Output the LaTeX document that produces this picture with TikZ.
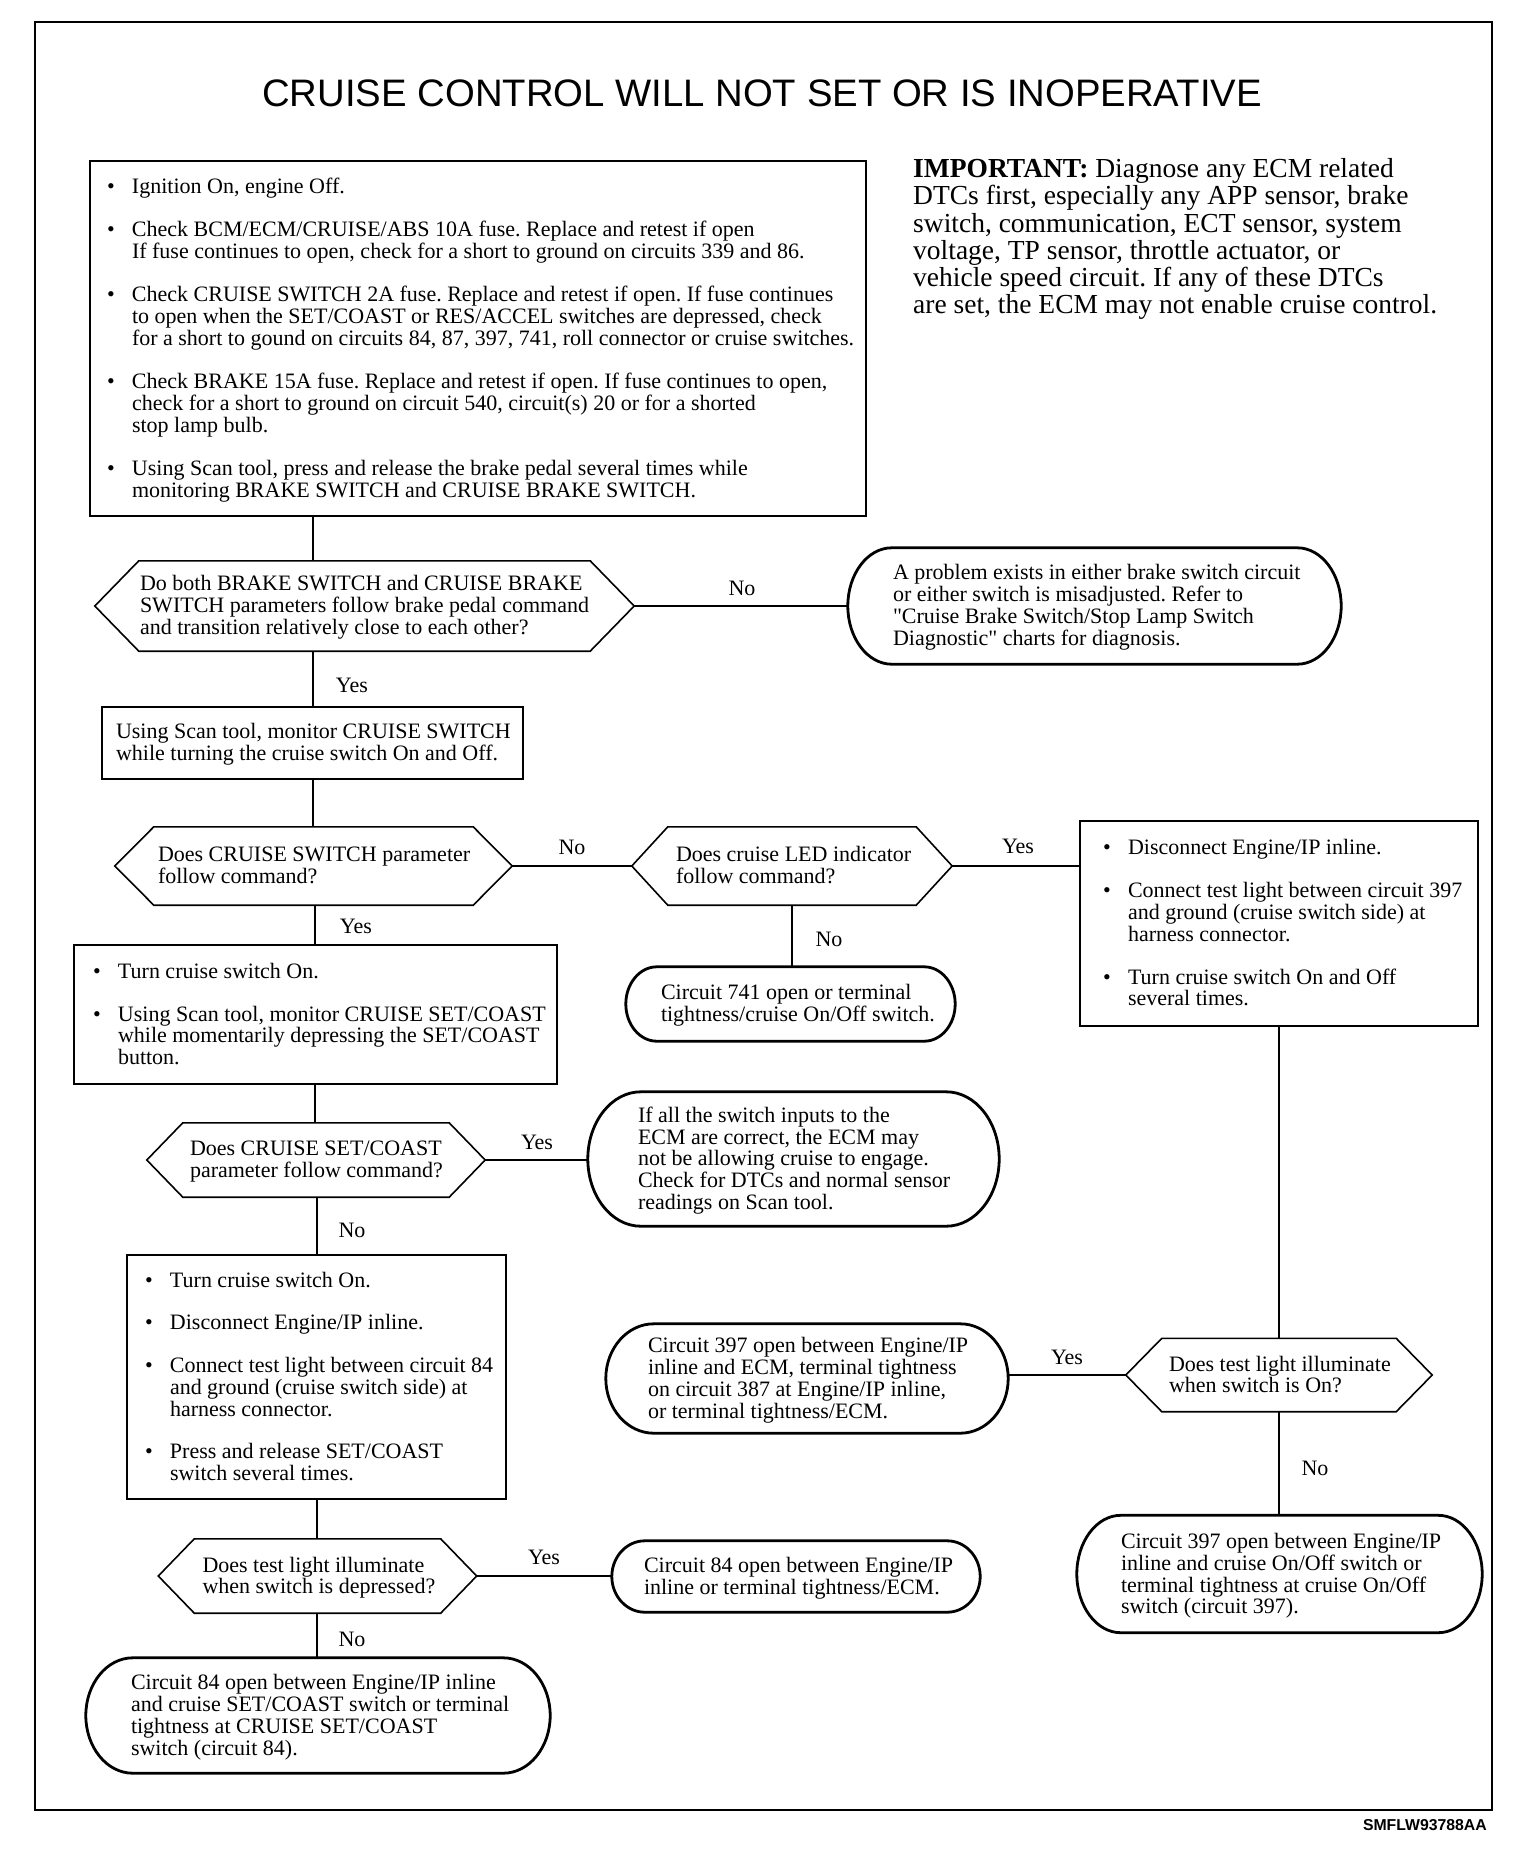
\documentclass[tikz,border=0pt]{standalone}
\usepackage{fontspec}
\defaultfontfeatures[\rmfamily,\sffamily]{}
\setmainfont{Liberation Serif}
\setsansfont{Liberation Sans}
\newfontfamily\rawserif{Liberation Serif}
\frenchspacing
\newcommand\bu{\makebox[25pt][l]{\textbullet}}
\newcommand\dn[1]{\raisebox{0pt}[\dimexpr\height+2.5pt\relax][\dimexpr\depth-2.5pt\relax]{#1}}
\newcommand\tx[2]{\dn{\makebox[#1pt][l]{\begin{tabular}{@{}l@{}}#2\end{tabular}}}}
\newcommand\bl[2]{\dn{\makebox[#1pt][l]{\begin{tabular}{@{}l@{}l@{}}#2\end{tabular}}}}
\newcommand\qq{{\rawserif\symbol{34}}}
\newcommand\hexb[2]{\draw[hexline] (#1.west) -- ([xshift=#2pt]#1.north west) -- ([xshift=-#2pt]#1.north east) -- (#1.east) -- ([xshift=-#2pt]#1.south east) -- ([xshift=#2pt]#1.south west) -- cycle;}
\newcommand\termb[3]{\draw[termline] ([xshift=#2pt]#1.north west) -- ([xshift=-#2pt]#1.north east)
 .. controls ([xshift=-0.4477*#2pt]#1.north east) and ([yshift=0.5523*#3pt]#1.east) .. (#1.east)
 .. controls ([yshift=-0.5523*#3pt]#1.east) and ([xshift=-0.4477*#2pt]#1.south east) .. ([xshift=-#2pt]#1.south east)
 -- ([xshift=#2pt]#1.south west)
 .. controls ([xshift=0.4477*#2pt]#1.south west) and ([yshift=-0.5523*#3pt]#1.west) .. (#1.west)
 .. controls ([yshift=0.5523*#3pt]#1.west) and ([xshift=0.4477*#2pt]#1.north west) .. ([xshift=#2pt]#1.north west) -- cycle;}
\begin{document}
\begin{tikzpicture}[x=1pt,y=1pt,
  txt/.style={inner sep=0pt, font=\fontsize{22}{21.7}\selectfont},
  boxn/.style={txt, draw, line width=2.6pt},
  shp/.style={txt},
  hexline/.style={line width=1.6pt, line join=miter},
  termline/.style={line width=2.8pt},
  conn/.style={line width=1.6pt},
  lab/.style={inner sep=0pt, font=\fontsize{22}{22}\selectfont},
  frame/.style={line width=2pt}]
\useasboundingbox (0,0) rectangle (1536,-1860);
\draw[frame] (35,-22) rectangle (1492,-1810);

\node[anchor=base, font=\sffamily\fontsize{38.3}{40}\selectfont] (title) at (762,-106) {CRUISE CONTROL WILL NOT SET OR IS INOPERATIVE};

\node[anchor=base west, inner sep=0pt, font=\fontsize{27.5}{27}\selectfont] (imp) at (913,-177.5)
 {\begin{tabular}[t]{@{}l@{}}\textbf{IMPORTANT:} Diagnose any ECM related\\
 DTCs first, especially any APP sensor, brake\\
 switch, communication, ECT sensor, system\\
 voltage, TP sensor, throttle actuator, or\\
 vehicle speed circuit. If any of these DTCs\\
 are set, the ECM may not enable cruise control.\end{tabular}};

% main column
\node[boxn, minimum width=776pt, minimum height=355pt] (b1) at (478,-338.5)
 {\bl{742}{\bu & Ignition On, engine Off.\\[21pt]
 \bu & Check BCM/ECM/CRUISE/ABS 10A fuse. Replace and retest if open\\
 & If fuse continues to open, check for a short to ground on circuits 339 and 86.\\[21pt]
 \bu & Check CRUISE SWITCH 2A fuse. Replace and retest if open. If fuse continues\\
 & to open when the SET/COAST or RES/ACCEL switches are depressed, check\\
 & for a short to gound on circuits 84, 87, 397, 741, roll connector or cruise switches.\\[21pt]
 \bu & Check BRAKE 15A fuse. Replace and retest if open. If fuse continues to open,\\
 & check for a short to ground on circuit 540, circuit(s) 20 or for a shorted\\
 & stop lamp bulb.\\[21pt]
 \bu & Using Scan tool, press and release the brake pedal several times while\\
 & monitoring BRAKE SWITCH and CRUISE BRAKE SWITCH.}};

\node[shp, minimum width=539pt, minimum height=90pt] (d1) at (364.5,-606)
 {\tx{449}{Do both BRAKE SWITCH and CRUISE BRAKE\\ SWITCH parameters follow brake pedal command\\ and transition relatively close to each other?}};
\hexb{d1}{44}

\node[shp, minimum width=493pt, minimum height=116pt] (t1) at (1094.5,-606)
 {\tx{403}{A problem exists in either brake switch circuit\\ or either switch is misadjusted. Refer to\\ \qq Cruise Brake Switch/Stop Lamp Switch\\ Diagnostic\qq{} charts for diagnosis.}};
\termb{t1}{44}{58}

\node[boxn, minimum width=421pt, minimum height=72pt] (b2) at (312.5,-743)
 {\tx{393}{Using Scan tool, monitor CRUISE SWITCH\\ while turning the cruise switch On and Off.}};

\node[shp, minimum width=397pt, minimum height=78pt] (d2) at (313.5,-866)
 {\tx{311}{Does CRUISE SWITCH parameter\\ follow command?}};
\hexb{d2}{39}

\node[shp, minimum width=320pt, minimum height=78pt] (d3) at (792,-866)
 {\tx{232}{Does cruise LED indicator\\ follow command?}};
\hexb{d3}{36}

\node[boxn, minimum width=398pt, minimum height=205pt] (b4) at (1279,-923.5)
 {\bl{352}{\bu & Disconnect Engine/IP inline.\\[21pt]
 \bu & Connect test light between circuit 397\\
 & and ground (cruise switch side) at\\
 & harness connector.\\[21pt]
 \bu & Turn cruise switch On and Off\\
 & several times.}};

\node[shp, minimum width=329pt, minimum height=74pt] (t2) at (790.5,-1004)
 {\tx{259}{Circuit 741 open or terminal\\ tightness/cruise On/Off switch.}};
\termb{t2}{31}{37}

\node[boxn, minimum width=483pt, minimum height=139pt] (b3) at (315.5,-1014.5)
 {\bl{445}{\bu & Turn cruise switch On.\\[21pt]
 \bu & Using Scan tool, monitor CRUISE SET/COAST\\
 & while momentarily depressing the SET/COAST\\
 & button.}};

\node[shp, minimum width=338pt, minimum height=74pt] (d4) at (316,-1160)
 {\tx{252}{Does CRUISE SET/COAST\\ parameter follow command?}};
\hexb{d4}{36}

\node[shp, minimum width=411pt, minimum height=134pt] (t3) at (793.5,-1159)
 {\tx{311}{If all the switch inputs to the\\ ECM are correct, the ECM may\\ not be allowing cruise to engage.\\ Check for DTCs and normal sensor\\ readings on Scan tool.}};
\termb{t3}{53}{67}

\node[boxn, minimum width=379pt, minimum height=244pt] (b5) at (316.5,-1377)
 {\bl{343}{\bu & Turn cruise switch On.\\[21pt]
 \bu & Disconnect Engine/IP inline.\\[21pt]
 \bu & Connect test light between circuit 84\\
 & and ground (cruise switch side) at\\
 & harness connector.\\[21pt]
 \bu & Press and release SET/COAST\\
 & switch several times.}};

\node[shp, minimum width=318pt, minimum height=74pt] (d5) at (317.5,-1576)
 {\tx{230}{Does test light illuminate\\ when switch is depressed?}};
\hexb{d5}{36}

\node[shp, minimum width=368pt, minimum height=71pt] (t5) at (796,-1576.5)
 {\tx{304}{Circuit 84 open between Engine/IP\\ inline or terminal tightness/ECM.}};
\termb{t5}{33}{35.5}

\node[shp, minimum width=464pt, minimum height=115pt] (t6) at (318,-1715.5)
 {\tx{374}{Circuit 84 open between Engine/IP inline\\ and cruise SET/COAST switch or terminal\\ tightness at CRUISE SET/COAST\\ switch (circuit 84).}};
\termb{t6}{47}{57.5}

\node[shp, minimum width=402pt, minimum height=109pt] (t4) at (807,-1378.5)
 {\tx{318}{Circuit 397 open between Engine/IP\\ inline and ECM, terminal tightness\\ on circuit 387 at Engine/IP inline,\\ or terminal tightness/ECM.}};
\termb{t4}{48}{54.5}

\node[shp, minimum width=306pt, minimum height=73pt] (d6) at (1279,-1375)
 {\tx{220}{Does test light illuminate\\ when switch is On?}};
\hexb{d6}{36}

\node[shp, minimum width=405pt, minimum height=117pt] (t7) at (1279.5,-1574)
 {\tx{317}{Circuit 397 open between Engine/IP\\ inline and cruise On/Off switch or\\ terminal tightness at cruise On/Off\\ switch (circuit 397).}};
\termb{t7}{44}{58.5}

% trunk x positions
\coordinate (xa) at (313,0);
\coordinate (xb) at (315,0);
\coordinate (xc) at (317,0);
\coordinate (xd) at (792,0);
\coordinate (xe) at (1279,0);

\draw[conn] (b1.south -| xa) -- (d1.north -| xa);
\draw[conn] (d1.south -| xa) -- (b2.north -| xa);
\draw[conn] (b2.south -| xa) -- (d2.north -| xa);
\draw[conn] (d2.south -| xb) -- (b3.north -| xb);
\draw[conn] (b3.south -| xb) -- (d4.north -| xb);
\draw[conn] (d4.south -| xc) -- (b5.north -| xc);
\draw[conn] (b5.south -| xc) -- (d5.north -| xc);
\draw[conn] (d5.south -| xc) -- (t6.north -| xc);
\draw[conn] (d3.south -| xd) -- (t2.north -| xd);
\draw[conn] (b4.south -| xe) -- (d6.north -| xe);
\draw[conn] (d6.south -| xe) -- (t7.north -| xe);

\draw[conn] (d1.east) -- (t1.west);
\draw[conn] (d2.east) -- (d3.west);
\draw[conn] (d3.east) -- (d3.east -| b4.west);
\draw[conn] (d4.east) -- (d4.east -| t3.west);
\draw[conn] (d5.east) -- (d5.east -| t5.west);
\draw[conn] (d6.west) -- (d6.west -| t4.east);

\node[lab] (l1) at (742,-588) {No};
\node[lab] (l2) at (352,-685) {Yes};
\node[lab] (l3) at (572,-847) {No};
\node[lab] (l4) at (1018,-846) {Yes};
\node[lab] (l5) at (356,-926) {Yes};
\node[lab] (l6) at (829,-939) {No};
\node[lab] (l7) at (537,-1142) {Yes};
\node[lab] (l8) at (352,-1230) {No};
\node[lab] (l9) at (544,-1557) {Yes};
\node[lab] (l10) at (352,-1639) {No};
\node[lab] (l11) at (1067,-1357) {Yes};
\node[lab] (l12) at (1315,-1468) {No};

\node[anchor=base east, inner sep=0pt, font=\sffamily\bfseries\fontsize{15.8}{16}\selectfont] (code) at (1487,-1830) {SMFLW93788AA};
\end{tikzpicture}
\end{document}
